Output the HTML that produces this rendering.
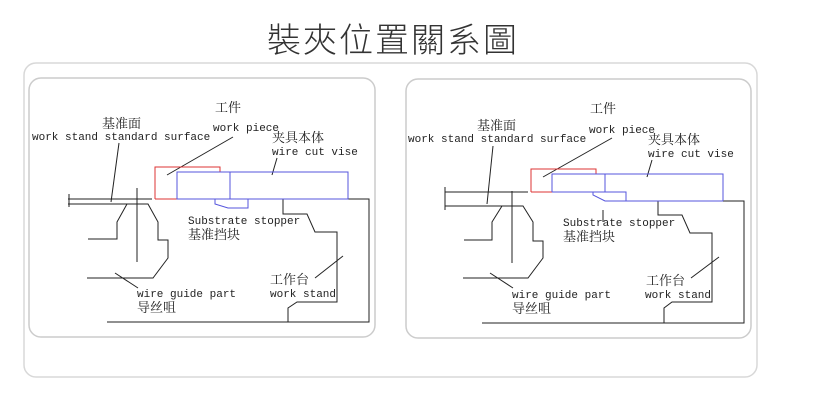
<!DOCTYPE html>
<html><head><meta charset="utf-8"><style>
html,body{margin:0;padding:0;background:#fff;width:816px;height:412px;overflow:hidden}
svg text{font-family:"Liberation Mono","Noto Sans CJK SC",monospace;font-size:11px;fill:#222}
svg text.cjk{font-family:"Liberation Serif","Noto Serif CJK SC","Noto Sans CJK SC",serif;font-size:13px}
</style></head><body>
<svg width="816" height="412" viewBox="0 0 816 412" xmlns="http://www.w3.org/2000/svg">
<text x="393" y="52" text-anchor="middle" style="font-family:'Liberation Sans','Noto Sans CJK TC',sans-serif;font-size:34px;fill:#333;font-weight:300;letter-spacing:2px">裝夾位置關系圖</text>
<rect x="24" y="63" width="733" height="314" rx="12" fill="none" stroke="#d8d8d8" stroke-width="1.5"/>
<g fill="none" stroke-width="1">
<rect x="29" y="78" width="346" height="259" rx="12" stroke="#ccc" stroke-width="1.5"/>
<g stroke="#222">
<line x1="68" y1="199" x2="152" y2="199"/>
<line x1="68" y1="204" x2="127" y2="204"/>
<line x1="69" y1="194" x2="69" y2="207"/>
<polyline points="127,204 148,204 158,222 158,240 168,240 168,258 153,278 87,278"/>
<polyline points="127,204 117,222 117,239 88,239"/>
<line x1="137" y1="188" x2="137" y2="262"/>
<polyline points="177,199 369,199 369,322 107,322"/>
<polyline points="283,199 283,214 307,214 315,232 337,232 337,302 297,302 288,308 288,322"/>
<line x1="119" y1="143" x2="111" y2="202"/>
<line x1="233" y1="137" x2="167" y2="175"/>
<line x1="277" y1="158" x2="272" y2="175"/>
<line x1="343" y1="256" x2="315" y2="278"/>
<line x1="115" y1="273" x2="138" y2="288"/>
</g>
<polyline points="155,199 155,167 220,167 220,172" stroke="#d33"/>
<line x1="155" y1="199" x2="177" y2="199" stroke="#d33"/>
<rect x="177" y="172" width="171" height="27" stroke="#55d"/>
<line x1="230" y1="172" x2="230" y2="199" stroke="#55d"/>
<polyline points="215,199 215,204 228,208 248,208 248,199" stroke="#55d"/>
<rect x="406" y="79" width="345" height="259" rx="12" stroke="#ccc" stroke-width="1.5"/>
<g stroke="#222">
<line x1="445" y1="192" x2="528" y2="192"/>
<line x1="445" y1="206" x2="522" y2="206"/>
<line x1="445" y1="187" x2="445" y2="210"/>
<polyline points="502,206 523,206 533,222 533,241 543,241 543,258 528,278 463,278"/>
<polyline points="502,206 492,222 492,240 464,240"/>
<line x1="512" y1="191" x2="512" y2="263"/>
<polyline points="626,201 744,201 744,323 482,323"/>
<polyline points="658,201 658,215 682,215 690,233 712,233 712,302 672,302 664,308 664,323"/>
<line x1="493" y1="146" x2="487" y2="204"/>
<line x1="612" y1="138" x2="543" y2="177"/>
<line x1="652" y1="160" x2="647" y2="177"/>
<line x1="719" y1="257" x2="691" y2="278"/>
<line x1="490" y1="273" x2="513" y2="288"/>
<line x1="603" y1="222" x2="603" y2="210"/>
</g>
<polyline points="531,192 531,169 596,169 596,174" stroke="#d33"/>
<line x1="531" y1="192" x2="552" y2="192" stroke="#d33"/>
<polyline points="552,192 552,174 723,174 723,201" stroke="#55d"/>
<line x1="605" y1="174" x2="605" y2="192" stroke="#55d"/>
<polyline points="552,192 626,192 626,201 723,201" stroke="#55d"/>
<polyline points="593,192 593,195 605,201 626,201" stroke="#55d"/>
</g>
<text class="cjk" x="215" y="112">工件</text>
<text x="213" y="131">work piece</text>
<text class="cjk" x="102" y="128">基准面</text>
<text x="32" y="140">work stand standard surface</text>
<text class="cjk" x="272" y="142">夹具本体</text>
<text x="272" y="155">wire cut vise</text>
<text x="188" y="224">Substrate stopper</text>
<text class="cjk" x="188" y="239">基准挡块</text>
<text class="cjk" x="270" y="284">工作台</text>
<text x="270" y="297">work stand</text>
<text x="137" y="297">wire guide part</text>
<text class="cjk" x="137" y="312">导丝咀</text>
<text class="cjk" x="590" y="113">工件</text>
<text x="589" y="133">work piece</text>
<text class="cjk" x="477" y="130">基准面</text>
<text x="408" y="142">work stand standard surface</text>
<text class="cjk" x="648" y="144">夹具本体</text>
<text x="648" y="157">wire cut vise</text>
<text x="563" y="226">Substrate stopper</text>
<text class="cjk" x="563" y="241">基准挡块</text>
<text class="cjk" x="646" y="285">工作台</text>
<text x="645" y="298">work stand</text>
<text x="512" y="298">wire guide part</text>
<text class="cjk" x="512" y="313">导丝咀</text>
</svg>
</body></html>
